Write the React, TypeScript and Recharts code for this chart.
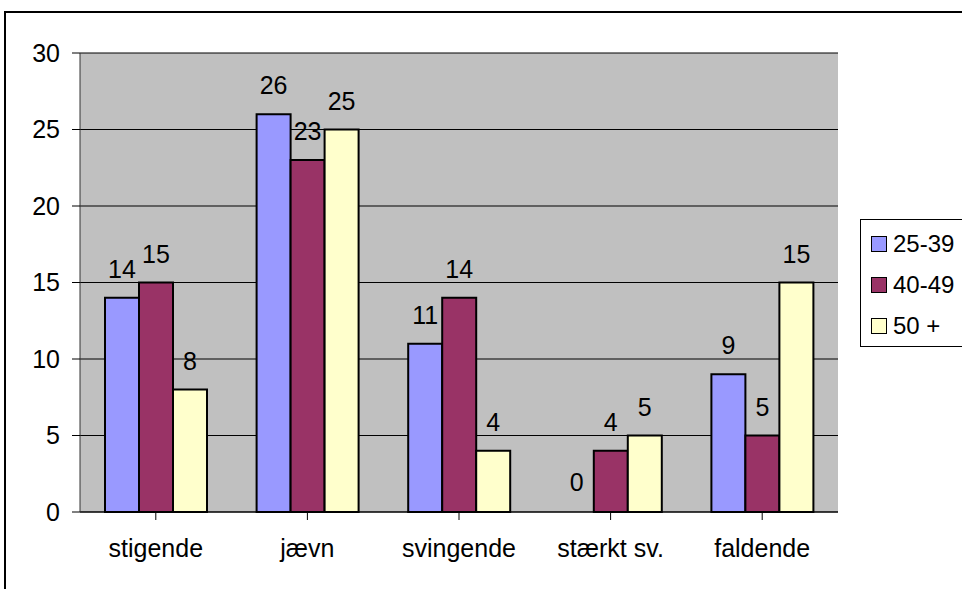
import React from "react";
import {
  Bar,
  BarChart,
  CartesianGrid,
  Cell,
  LabelList,
  XAxis,
  YAxis,
} from "recharts";

const CATEGORIES = ["stigende", "jævn", "svingende", "stærkt sv.", "faldende"];
const AGE_25_39 = [14, 26, 11, 0, 9];
const AGE_40_49 = [15, 23, 14, 4, 5];
const AGE_50_PLUS = [8, 25, 4, 5, 15];
const Y_TICKS = [0, 5, 10, 15, 20, 25, 30];

const SERIES = [
  { key: "a", name: "25-39", color: "#9999FF", values: AGE_25_39 },
  { key: "b", name: "40-49", color: "#993366", values: AGE_40_49 },
  { key: "c", name: "50 +", color: "#FFFFCC", values: AGE_50_PLUS },
];

const data = CATEGORIES.map((cat, i) => ({
  cat,
  a: AGE_25_39[i],
  b: AGE_40_49[i],
  c: AGE_50_PLUS[i],
}));

const FONT = "'Liberation Sans', Arial, sans-serif";

// legend drawn as plain html so it doesn't shrink the plot area
function LegendBox() {
  return (
    <div
      style={{
        position: "absolute",
        left: 860,
        top: 219,
        width: 110,
        height: 128,
        border: "1px solid #000",
        background: "#fff",
        boxSizing: "border-box",
        paddingTop: 3,
        paddingLeft: 10,
        fontFamily: FONT,
        fontSize: 24,
        color: "#000",
      }}
    >
      {SERIES.map((s) => (
        <div key={s.key} style={{ display: "flex", alignItems: "center", height: 41 }}>
          <span
            style={{
              display: "inline-block",
              width: 16,
              height: 16,
              background: s.color,
              border: "1.5px solid #000",
              boxSizing: "border-box",
              marginRight: 6,
            }}
          />
          {s.name}
        </div>
      ))}
    </div>
  );
}

export default function App() {
  return (
    <div
      style={{
        position: "absolute",
        left: 0,
        top: 0,
        width: 962,
        height: 589,
        overflow: "hidden",
        background: "#fff",
        fontFamily: FONT,
      }}
    >
      <div
        style={{
          position: "absolute",
          left: 4,
          top: 11,
          width: 1000,
          height: 640,
          borderLeft: "2px solid #000",
          borderTop: "2px solid #000",
        }}
      />
      <div style={{ position: "absolute", left: 0, top: 0 }}>
        <BarChart
          width={962}
          height={589}
          data={data}
          margin={{ top: 53, right: 124, left: 0, bottom: 47 }}
          barCategoryGap={25}
          barGap={0}
        >
          <CartesianGrid
            yAxisId="left"
            fill="#C0C0C0"
            fillOpacity={1}
            stroke="#000"
            vertical={false}
          />
          <XAxis
            dataKey="cat"
            tick={{ fill: "#000", fontSize: 25 }}
            tickSize={8}
            tickMargin={19}
            axisLine={{ stroke: "#000" }}
            tickLine={{ stroke: "#000" }}
            interval={0}
          />
          <YAxis
            yAxisId="left"
            width={80}
            domain={[0, 30]}
            ticks={Y_TICKS}
            tick={{ fill: "#000", fontSize: 25 }}
            tickSize={8}
            tickMargin={12}
            axisLine={{ stroke: "#333" }}
            tickLine={{ stroke: "#000" }}
            interval={0}
          />
          <YAxis
            yAxisId="right"
            orientation="right"
            width={0}
            domain={[0, 30]}
            tick={false}
            tickLine={false}
            axisLine={{ stroke: "#808080", strokeWidth: 2 }}
          />
          {SERIES.map((s) => (
            <Bar
              key={s.key}
              yAxisId="left"
              dataKey={s.key}
              name={s.name}
              fill={s.color}
              stroke="#000"
              strokeWidth={2}
              minPointSize={(v: number) => (v === 0 ? 1 : 0)}
              isAnimationActive={false}
            >
              {s.values.map((v, i) => (
                <Cell
                  key={i}
                  fill={v === 0 ? "none" : s.color}
                  stroke={v === 0 ? "none" : "#000"}
                />
              ))}
              <LabelList
                dataKey={s.key}
                position="top"
                offset={20}
                fill="#000"
                fontSize={25}
              />
            </Bar>
          ))}
        </BarChart>
      </div>
      <LegendBox />
    </div>
  );
}
